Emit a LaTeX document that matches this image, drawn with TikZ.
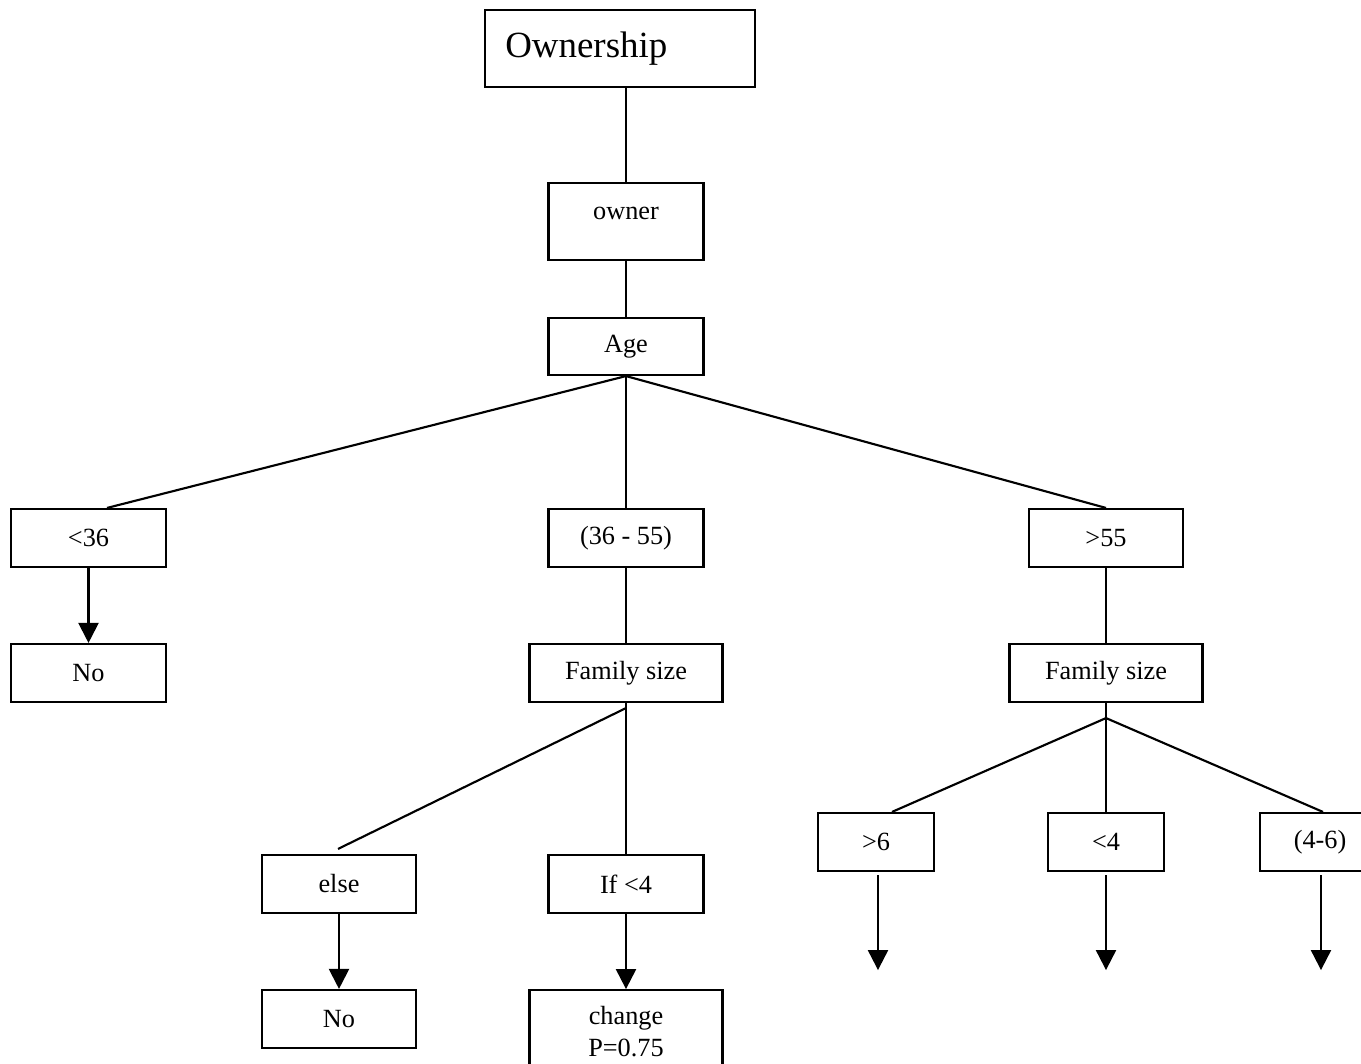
\documentclass[tikz,border=0pt]{standalone}
\usepackage{fontspec}
\setmainfont{Liberation Serif}
\usetikzlibrary{arrows.meta,calc}
\begin{document}
\begin{tikzpicture}[x=0.75pt,y=-0.75pt,
  every node/.style={font=\fontsize{19.7pt}{24.5pt}\selectfont},
  box/.style={draw, line width=1.6pt, inner sep=0pt, minimum height=43.5pt, align=center},
  link/.style={line width=1.6pt},
  arrowlink/.style={line width=1.6pt, -{Triangle[width=15pt,length=15pt]}}]
\useasboundingbox (0,0) rectangle (1361,1064);

% top of the tree
\node[box, minimum width=202.5pt, minimum height=57.75pt] (own) at (620,48.5) {};
\node[anchor=base west, inner sep=0pt, font=\fontsize{27.7pt}{32pt}\selectfont] (ownlbl) at (505,57) {Ownership};
\node[box, minimum width=116.25pt, minimum height=57.75pt] (owner) at (626,221.5) {};
\node[anchor=base] (ownerlbl) at (626,219) {owner};
\node[box, minimum width=116.25pt, minimum height=42.75pt] (age) at (626,346.5) {Age};

% age groups
\node[box, minimum width=116.25pt] (lt36) at (88.5,538) {<36};
\node[box, minimum width=116.25pt] (mid) at (626,538) {(36 - 55)};
\node[box, minimum width=115.5pt] (gt55) at (1106,538) {>55};

\node[box, minimum width=116.25pt] (no1) at (88.5,673) {No};
\node[box, minimum width=144.75pt] (fs1) at (626,673) {Family size};
\node[box, minimum width=144.75pt] (fs2) at (1106,673) {Family size};

% family size branches, middle group
\node[box, minimum width=115.5pt] (else) at (339,884) {else};
\node[box, minimum width=116.25pt] (if4) at (626,884) {If <4};
\node[box, minimum width=115.5pt] (no2) at (339,1019) {No};
\node[box, minimum width=144.75pt, minimum height=62pt] (change) at (626,1031.5) {change\\P=0.75};

% family size branches, older group
\node[box, minimum width=87pt] (gt6) at (876,842) {>6};
\node[box, minimum width=87pt] (lt4) at (1106,842) {<4};
\node[box, minimum width=90pt] (r46) at (1320,842) {(4-6)};

% connectors
\draw[link] (owner.north |- own.south) -- (owner.north);
\draw[link] (owner.south) -- (age.north);

\coordinate (lt36in) at ($(lt36.north)+(18.5,0)$);
\draw[link] (age.south) -- (lt36in);
\draw[link] (age.south) -- (mid.north);
\draw[link] (age.south) -- (gt55.north);

\draw[arrowlink] (lt36.south) -- (no1.north);
\draw[link] (mid.south) -- (fs1.north);
\draw[link] (gt55.south) -- (fs2.north);

\draw[link] (fs1.south) -- (if4.north);
\coordinate (fs1fork) at ($(fs1.south)+(0,5)$);
\coordinate (elsein) at ($(else.north)+(-1,-5)$);
\draw[link] (fs1fork) -- (elsein);
\draw[arrowlink] (else.south) -- (no2.north);
\draw[arrowlink] (if4.south) -- (change.north);

\coordinate (fs2fork) at ($(fs2.south)+(0,15)$);
\coordinate (gt6in) at ($(gt6.north)+(16,0)$);
\coordinate (r46in) at ($(r46.north)+(3,0)$);
\draw[link] (fs2.south) -- (fs2fork);
\draw[link] (fs2fork) -- (gt6in);
\draw[link] (fs2fork) -- (lt4.north);
\draw[link] (fs2fork) -- (r46in);

\coordinate (gt6tail) at ($(gt6.south)+(2,3)$);
\coordinate (gt6end) at ($(gt6.south)+(2,98)$);
\coordinate (lt4tail) at ($(lt4.south)+(0,3)$);
\coordinate (lt4end) at ($(lt4.south)+(0,98)$);
\coordinate (r46tail) at ($(r46.south)+(1,3)$);
\coordinate (r46end) at ($(r46.south)+(1,98)$);
\draw[arrowlink] (gt6tail) -- (gt6end);
\draw[arrowlink] (lt4tail) -- (lt4end);
\draw[arrowlink] (r46tail) -- (r46end);
\end{tikzpicture}
\end{document}
